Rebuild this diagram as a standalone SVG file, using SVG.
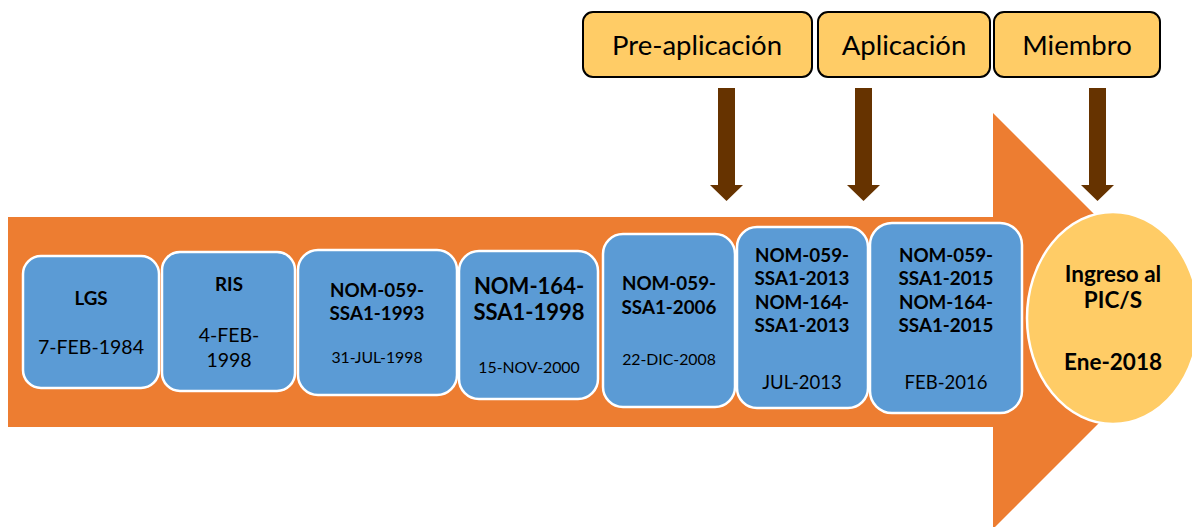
<svg xmlns="http://www.w3.org/2000/svg" width="1192" height="527" viewBox="0 0 1192 527">
<style>
.box{fill:#5B9BD5;stroke:#FFFFFF;stroke-width:2.5}
.top{fill:#FFCC66;stroke:#000000;stroke-width:2}
.t{font-family:Lato,"Liberation Sans",sans-serif;fill:#000;text-anchor:middle}
.b{font-weight:bold;font-size:18.8px}
.b2{font-size:22px}
.b3{font-size:22.5px}
.r{font-size:19.5px}
.s{font-size:15.8px}
.m{font-size:18.5px}
.h{font-size:27.5px}
.arr{fill:#663300}
</style>
<rect width="1192" height="527" fill="#FFFFFF"/>
<g id="timeline-arrow">
<polygon points="8,217 993,217 993,113 1201,321 993,529 993,427 8,427" fill="#ED7D31"/>
</g>
<g id="connectors">
<polygon class="arr" points="718,88 735,88 735,185 743,185 726.5,201 710,185 718,185"/>
<polygon class="arr" points="855,88 872,88 872,185 880,185 863.5,201 847,185 855,185"/>
<polygon class="arr" points="1089,88 1106,88 1106,185 1114,185 1097.5,201 1081,185 1089,185"/>
</g>
<g id="n-preaplicacion">
<rect class="top" x="583" y="12" width="229" height="65" rx="10"/>
<text class="t h" x="697" y="55">Pre-aplicación</text>
</g>
<g id="n-aplicacion">
<rect class="top" x="818" y="12" width="172" height="65" rx="10"/>
<text class="t h" x="904" y="55">Aplicación</text>
</g>
<g id="n-miembro">
<rect class="top" x="994" y="12" width="166" height="65" rx="10"/>
<text class="t h" x="1077" y="55">Miembro</text>
</g>
<g id="n-lgs">
<rect class="box" x="23" y="256" width="136" height="132" rx="18"/>
<text class="t b" x="91" y="305">LGS</text>
<text class="t r" x="91" y="354">7-FEB-1984</text>
</g>
<g id="n-ris">
<rect class="box" x="162" y="252" width="133" height="139" rx="18"/>
<text class="t b" x="229" y="291">RIS</text>
<text class="t r" x="229" y="342">4-FEB-</text>
<text class="t r" x="229" y="367">1998</text>
</g>
<g id="n-nom059-1993">
<rect class="box" x="298" y="250" width="159" height="145" rx="20"/>
<text class="t b" x="377" y="297">NOM-059-</text>
<text class="t b" x="377" y="320">SSA1-1993</text>
<text class="t s" x="377" y="363">31-JUL-1998</text>
</g>
<g id="n-nom164-1998">
<rect class="box" x="459" y="251" width="139" height="148" rx="20"/>
<text class="t b b2" x="529" y="294">NOM-164-</text>
<text class="t b b2" x="529" y="320">SSA1-1998</text>
<text class="t s" x="529" y="373">15-NOV-2000</text>
</g>
<g id="n-nom059-2006">
<rect class="box" x="603" y="234" width="132" height="173" rx="20"/>
<text class="t b" x="669" y="290">NOM-059-</text>
<text class="t b" x="669" y="314">SSA1-2006</text>
<text class="t s" x="669" y="365">22-DIC-2008</text>
</g>
<g id="n-2013">
<rect class="box" x="737" y="227" width="131" height="181" rx="20"/>
<text class="t b" x="802" y="262">NOM-059-</text>
<text class="t b" x="802" y="285">SSA1-2013</text>
<text class="t b" x="802" y="309">NOM-164-</text>
<text class="t b" x="802" y="332">SSA1-2013</text>
<text class="t m" x="802" y="389">JUL-2013</text>
</g>
<g id="n-2015">
<rect class="box" x="870" y="223" width="152" height="190" rx="22"/>
<text class="t b" x="946" y="262">NOM-059-</text>
<text class="t b" x="946" y="285">SSA1-2015</text>
<text class="t b" x="946" y="309">NOM-164-</text>
<text class="t b" x="946" y="332">SSA1-2015</text>
<text class="t m" x="946" y="389">FEB-2016</text>
</g>
<g id="n-pics">
<ellipse cx="1113" cy="318" rx="86" ry="106" fill="#FFCC66" stroke="#FFFFFF" stroke-width="2.5"/>
<text class="t b b3" x="1113" y="282">Ingreso al</text>
<text class="t b b3" x="1113" y="308">PIC/S</text>
<text class="t b b3" x="1113" y="370">Ene-2018</text>
</g>
</svg>
